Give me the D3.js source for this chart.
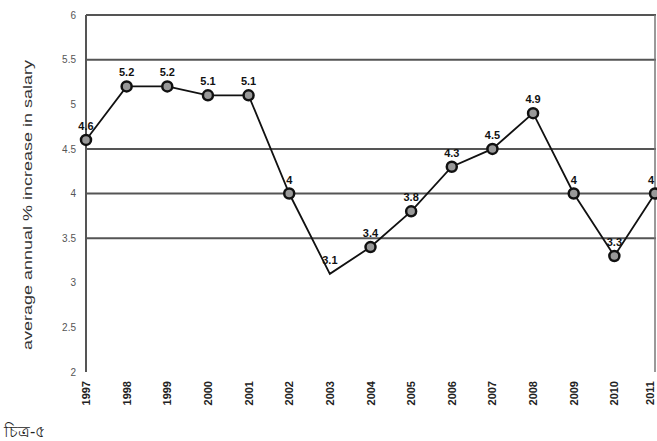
<!DOCTYPE html>
<html>
<head>
<meta charset="utf-8">
<script src="https://cdn.jsdelivr.net/npm/d3@7"></script>
<style>
  body { margin: 0; background: #fff; }
  text { font-family: "Liberation Sans", Arial, sans-serif; }
</style>
</head>
<body>
<div id="chart"></div>
<script>
// values
var years = ["1997", "1998", "1999", "2000", "2001", "2002", "2003", "2004",
             "2005", "2006", "2007", "2008", "2009", "2010", "2011"];
var salaryRise = [4.6, 5.2, 5.2, 5.1, 5.1, 4, 3.1, 3.4, 3.8, 4.3, 4.5, 4.9, 4, 3.3, 4];
var yTicks = [2, 2.5, 3, 3.5, 4, 4.5, 5, 5.5, 6];
var gridValues = [6, 5.5, 4.5, 4, 3.5];
var noMarker = ["2003"]; // the original shows no dot there

var W = 657, H = 441;
var margin = { top: 15, right: 1, bottom: 69, left: 86 },
    width = W - margin.left - margin.right,
    height = H - margin.top - margin.bottom;

var svg = d3.select("#chart")
    .append("svg")
    .attr("width", W)
    .attr("height", H)
    .append("g")
    .attr("transform", "translate(" + margin.left + "," + margin.top + ")");

var x = d3.scalePoint()
    .domain(years)
    .range([0, width - 1]);

var y = d3.scaleLinear()
    .domain([2, 6])
    .range([height, 0]);

// horizontal grid lines (only some of them, like the original)
svg.selectAll(".grid")
    .data(gridValues)
    .enter().append("line")
    .attr("class", "grid")
    .attr("x1", 0)
    .attr("x2", width)
    .attr("y1", function (d) { return y(d); })
    .attr("y2", function (d) { return y(d); })
    .attr("stroke", "#555")
    .attr("stroke-width", 2);

// left axis + right frame
svg.append("line")
    .attr("x1", 0).attr("x2", 0)
    .attr("y1", 0).attr("y2", height)
    .attr("stroke", "#555").attr("stroke-width", 2);
svg.append("line")
    .attr("x1", width - 1).attr("x2", width - 1)
    .attr("y1", 0).attr("y2", height)
    .attr("stroke", "#777").attr("stroke-width", 1.5);

// y tick labels
var yAxis = svg.append("g")
    .call(d3.axisLeft(y).tickValues(yTicks).tickSize(0).tickPadding(10)
        .tickFormat(function (d) { return d; }));
yAxis.select(".domain").remove();
yAxis.selectAll("text")
    .style("font-size", "10px")
    .attr("fill", "#555");

// x tick labels, rotated
svg.selectAll(".xlab")
    .data(years)
    .enter().append("text")
    .attr("class", "xlab")
    .attr("transform", function (d) {
        var xx = Math.min(x(d) + 4, width - 2);
        return "translate(" + xx + "," + (height + 9) + ") rotate(-90)";
    })
    .attr("text-anchor", "end")
    .style("font-size", "11px")
    .style("font-weight", "bold")
    .attr("fill", "#222")
    .text(function (d) { return d; });

// y axis title
svg.append("text")
    .attr("transform", "translate(" + (-54) + "," + 190 + ") rotate(-90)")
    .attr("text-anchor", "middle")
    .attr("textLength", 290)
    .attr("lengthAdjust", "spacingAndGlyphs")
    .style("font-size", "12px")
    .attr("fill", "#333")
    .text("average annual % increase in salary");

// the line
var line = d3.line()
    .x(function (d, i) { return x(years[i]); })
    .y(function (d) { return y(d); });

svg.append("path")
    .datum(salaryRise)
    .attr("d", line)
    .attr("fill", "none")
    .attr("stroke", "#111")
    .attr("stroke-width", 1.8);

// markers
var pts = salaryRise
    .map(function (d, i) { return { year: years[i], value: d }; })
    .filter(function (p) { return noMarker.indexOf(p.year) < 0; });

svg.selectAll(".pt")
    .data(pts)
    .enter().append("circle")
    .attr("class", "pt")
    .attr("cx", function (p) { return x(p.year); })
    .attr("cy", function (p) { return y(p.value); })
    .attr("r", 5)
    .attr("fill", "#999")
    .attr("stroke", "#111")
    .attr("stroke-width", 2.5);

// value labels
svg.selectAll(".val")
    .data(salaryRise)
    .enter().append("text")
    .attr("class", "val")
    .attr("x", function (d, i) { return Math.min(x(years[i]), width - 5); })
    .attr("y", function (d) { return y(d) - 10; })
    .attr("text-anchor", "middle")
    .style("font-size", "11px")
    .style("font-weight", "bold")
    .attr("fill", "#111")
    .text(function (d) { return d; });

// figure caption
d3.select("svg").append("text")
    .attr("x", 4)
    .attr("y", 437)
    .style("font-size", "16px")
    .attr("fill", "#222")
    .text("চিত্র-৫");
</script>
</body>
</html>
